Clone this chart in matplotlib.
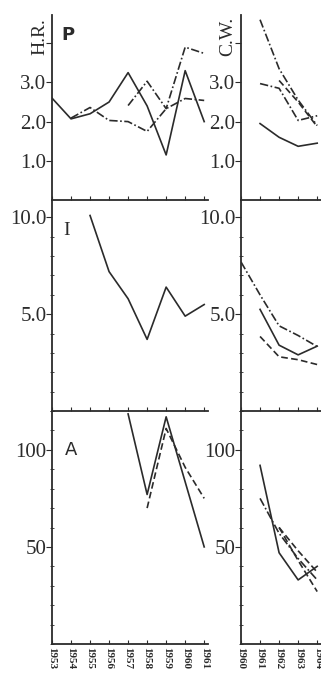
import numpy as np
import matplotlib.pyplot as plt
from matplotlib.ticker import MultipleLocator, FixedLocator

# years
years_hr = list(range(1953, 1962))
years_cw = list(range(1960, 1965))

# P panel, H.R.
hr_p_solid_x = list(range(1953, 1962))
hr_p_solid = [2.6, 2.07, 2.2, 2.5, 3.25, 2.4, 1.15, 3.3, 2.0]
hr_p_dashdot_x = list(range(1954, 1962))
hr_p_dashdot = [2.09, 2.36, 2.03, 2.0, 1.75, 2.33, 2.59, 2.54]
hr_p_dashed_x = list(range(1957, 1962))
hr_p_dashed = [2.41, 3.03, 2.33, 3.9, 3.74]

# P panel, C.W.
cw_p_dashdot_x = [1961, 1962, 1963, 1964]
cw_p_dashdot = [4.6, 3.35, 2.55, 1.9]
cw_p_dashed_x = [1961, 1962, 1963, 1964]
cw_p_dashed = [2.97, 2.85, 2.03, 2.15]
cw_p_dashed2_x = [1962, 1963, 1964]
cw_p_dashed2 = [3.05, 2.5, 1.87]
cw_p_solid_x = [1961, 1962, 1963, 1964]
cw_p_solid = [1.95, 1.6, 1.37, 1.45]

# I panel
hr_i_solid_x = list(range(1955, 1962))
hr_i_solid = [10.1, 7.2, 5.8, 3.7, 6.4, 4.9, 5.5]
cw_i_dashdot_x = [1960, 1961, 1962, 1963, 1964]
cw_i_dashdot = [7.7, 6.0, 4.4, 3.9, 3.33]
cw_i_solid_x = [1961, 1962, 1963, 1964]
cw_i_solid = [5.25, 3.4, 2.9, 3.35]
cw_i_dashed_x = [1961, 1962, 1963, 1964]
cw_i_dashed = [3.85, 2.8, 2.65, 2.4]

# A panel
hr_a_solid_x = list(range(1957, 1962))
hr_a_solid = [118.5, 77, 117, 83.5, 50]
hr_a_dashed_x = list(range(1958, 1962))
hr_a_dashed = [70, 111, 91, 75]
cw_a_solid_x = [1961, 1962, 1963, 1964]
cw_a_solid = [92, 47, 33, 40]
cw_a_dashdot_x = [1961, 1962, 1963, 1964]
cw_a_dashdot = [75, 57, 44, 33]
cw_a_dashed1_x = [1962, 1963, 1964]
cw_a_dashed1 = [60, 43, 27]
cw_a_dashed2_x = [1962, 1963, 1964]
cw_a_dashed2 = [60, 48, 37]

ink = '#2b2b2b'
serif = 'Liberation Serif'
lw = 1.2
dash = (0, (4, 2))
dashdot = (0, (5, 1.5, 1, 1.5))

fig = plt.figure(figsize=(3.21, 6.73), dpi=100)

H = 673.0
W = 321.0
rows = {'P': (15, 200), 'I': (200, 411), 'A': (411, 644)}
ylims = {'P': 4.72, 'I': 10.9, 'A': 120}


def make_ax(x0, x1, row, xmax_year, xmin_year):
    top, bot = rows[row]
    ax = fig.add_axes([x0 / W, 1 - bot / H, (x1 - x0) / W, (bot - top) / H])
    ax.set_xlim(xmin_year, xmax_year)
    ax.set_ylim(0, ylims[row])
    for s in ['top', 'right']:
        ax.spines[s].set_visible(False)
    for s in ['left', 'bottom']:
        ax.spines[s].set_color(ink)
        ax.spines[s].set_linewidth(1.3)
    ax.patch.set_alpha(0)
    ax.tick_params(axis='x', direction='in', length=3, color=ink, labelbottom=False)
    ax.tick_params(axis='y', which='major', direction='out', length=4, color=ink,
                   labelsize=15, pad=0, labelcolor=ink)
    ax.tick_params(axis='y', which='minor', direction='inout', length=3, color=ink)
    return ax


def set_yticks(ax, row):
    if row == 'P':
        ax.yaxis.set_major_locator(FixedLocator([1, 2, 3, 4]))
        ax.set_yticklabels(['1.0', '2.0', '3.0', ''], family=serif)
    elif row == 'I':
        ax.yaxis.set_major_locator(FixedLocator([5, 10]))
        ax.yaxis.set_minor_locator(MultipleLocator(1))
        ax.set_yticklabels(['5.0', '10.0'], family=serif)
    else:
        ax.yaxis.set_major_locator(FixedLocator([50, 100]))
        ax.yaxis.set_minor_locator(MultipleLocator(10))
        ax.set_yticklabels(['50', '100'], family=serif)


axes = {}
for row in ['P', 'I', 'A']:
    axl = make_ax(52, 208, row, 1961.2, 1953)
    axl.set_xticks(years_hr)
    set_yticks(axl, row)
    axr = make_ax(241, 321, row, 1964.2, 1960)
    axr.set_xticks(years_cw)
    set_yticks(axr, row)
    axes[row] = (axl, axr)

# P
axl, axr = axes['P']
axl.plot(hr_p_solid_x, hr_p_solid, color=ink, lw=lw)
axl.plot(hr_p_dashdot_x, hr_p_dashdot, color=ink, lw=lw, ls=dashdot)
axl.plot(hr_p_dashed_x, hr_p_dashed, color=ink, lw=lw, ls=dashdot)
axr.plot(cw_p_dashdot_x, cw_p_dashdot, color=ink, lw=lw, ls=dashdot)
axr.plot(cw_p_dashed_x, cw_p_dashed, color=ink, lw=lw, ls=dashdot)
axr.plot(cw_p_dashed2_x, cw_p_dashed2, color=ink, lw=lw, ls=dash)
axr.plot(cw_p_solid_x, cw_p_solid, color=ink, lw=lw)
axl.text(1953.5, 4.2, 'P', fontsize=13, fontweight='bold', color=ink, va='center')
axl.text(-0.077, 0.98, 'H.R.', transform=axl.transAxes, rotation=90, ha='center',
         va='top', family=serif, fontsize=14, color=ink)
axr.text(-0.16, 0.99, 'C.W.', transform=axr.transAxes, rotation=90, ha='center',
         va='top', family=serif, fontsize=14, color=ink)

# I
axl, axr = axes['I']
axl.plot(hr_i_solid_x, hr_i_solid, color=ink, lw=lw)
axr.plot(cw_i_dashdot_x, cw_i_dashdot, color=ink, lw=lw, ls=dashdot)
axr.plot(cw_i_solid_x, cw_i_solid, color=ink, lw=lw)
axr.plot(cw_i_dashed_x, cw_i_dashed, color=ink, lw=lw, ls=dash)
axl.text(1953.6, 9.3, 'I', fontsize=14, family=serif, color=ink, va='center')

# A
axl, axr = axes['A']
axl.plot(hr_a_solid_x, hr_a_solid, color=ink, lw=lw)
axl.plot(hr_a_dashed_x, hr_a_dashed, color=ink, lw=lw, ls=dash)
axr.plot(cw_a_solid_x, cw_a_solid, color=ink, lw=lw)
axr.plot(cw_a_dashdot_x, cw_a_dashdot, color=ink, lw=lw, ls=dashdot)
axr.plot(cw_a_dashed1_x, cw_a_dashed1, color=ink, lw=lw, ls=dash)
axr.plot(cw_a_dashed2_x, cw_a_dashed2, color=ink, lw=lw, ls=dash)
axl.text(1953.7, 100, 'A', fontsize=13, color=ink, va='center')

for ax, yrs in [(axl, years_hr), (axr, years_cw)]:
    ax.tick_params(axis='x', labelbottom=True, pad=2)
    ax.set_xticklabels([str(y) for y in yrs], rotation=-90, family=serif,
                       fontsize=8, fontweight='bold', color=ink)

fig.savefig('out.png', dpi=100)
